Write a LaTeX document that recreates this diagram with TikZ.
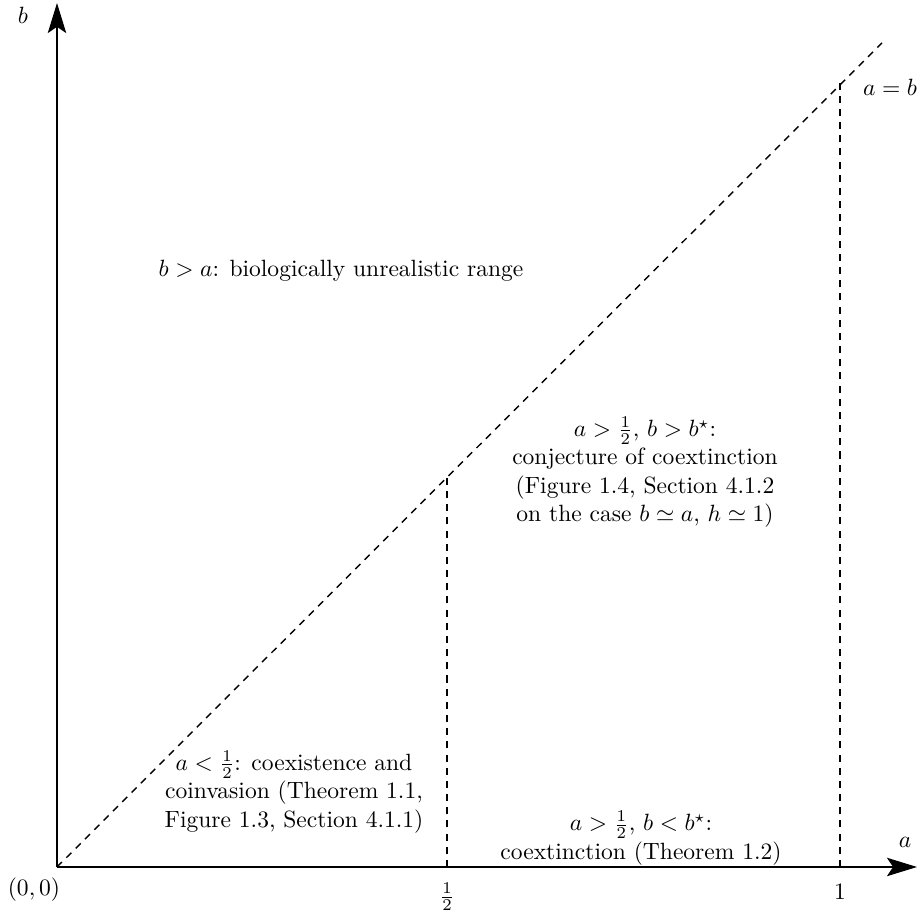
\documentclass[tikz,border=0pt]{standalone}
\usetikzlibrary{arrows.meta}
\begin{document}
\begin{tikzpicture}[x=0.425pt,y=-0.425pt,
  axis/.style={line width=0.85pt,-{Stealth[length=12.75pt,width=7.8pt,inset=2.6pt]}},
  guide/.style={line width=0.6pt,dash pattern=on 3pt off 2.6pt},
  region/.style={align=center,inner sep=0pt},
  lbl/.style={inner sep=0pt}]
\path[use as bounding box] (0,0) rectangle (921,915);
\coordinate (O) at (57,867);
\coordinate (XE) at (917,867);
\coordinate (YE) at (57,3);
\coordinate (DE) at (882,43);
\coordinate (HT) at (447,478);
\coordinate (HB) at (447,867);
\coordinate (UT) at (840,83);
\coordinate (UB) at (840,867);
\draw[guide] (O) -- (DE);
\draw[guide] (HB) -- (HT);
\draw[guide] (UB) -- (UT);
\draw[axis] (O) -- (XE);
\draw[axis] (O) -- (YE);
\node[lbl] (lb) at (23,15) {$b$};
\node[lbl] (la) at (905,842) {$a$};
\node[lbl] (lab) at (890,87) {$a=b$};
\node[lbl] (l00) at (34,890) {$(0,0)$};
\node[lbl] (lhalf) at (447,897) {$\frac{1}{2}$};
\node[lbl] (lone) at (840,892) {$1$};
\node[region] (rup) at (341,271) {$b>a$: biologically unrealistic range};
\node[region] (rmid) at (645,472) {$a>\frac{1}{2}$, $b>b^\star$:\\ conjecture of coextinction\\ (Figure 1.4, Section 4.1.2\\ on the case $b\simeq a$, $h\simeq 1$)};
\node[region] (rleft) at (294,792) {$a<\frac{1}{2}$: coexistence and\\ coinvasion (Theorem 1.1,\\ Figure 1.3, Section 4.1.1)};
\node[region] (rright) at (641,838) {$a>\frac{1}{2}$, $b<b^\star$:\\ coextinction (Theorem 1.2)};
\end{tikzpicture}
\end{document}
